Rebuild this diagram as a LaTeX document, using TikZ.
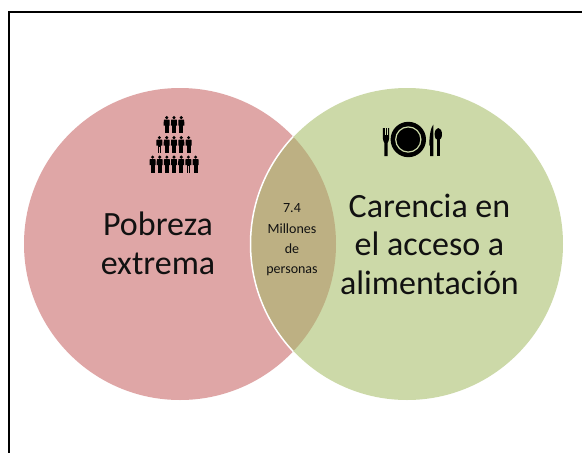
\documentclass[tikz,border=0pt]{standalone}
\usepackage{fontspec}
\setmainfont{Carlito}
\definecolor{pinkc}{HTML}{DFA6A6}
\definecolor{greenc}{HTML}{CCD9A8}
\definecolor{lensc}{HTML}{BDB083}
\definecolor{inkc}{HTML}{111111}
\tikzset{
  bigtext/.style={align=center,font=\fontsize{34}{38.5}\selectfont,text=inkc},
  smalltext/.style={align=center,font=\fontsize{14}{20.3}\selectfont,text=inkc},
  person/.pic={
    \fill[black] (0,1.6) circle (1.7);
    \fill[black] (-1.9,3.6) rectangle (1.9,10.5);
    \fill[black] (-2.9,4) -- (-2.2,3.5) -- (2.2,3.5) -- (2.9,4) -- (3.05,9.6) -- (-3.05,9.6) -- cycle;
    \fill[black] (-1.9,10) rectangle (-0.1,17);
    \fill[black] (0.1,10) rectangle (1.9,17);
  }
}
\begin{document}
\begin{tikzpicture}[x=1pt,y=-1pt]
\useasboundingbox (0,0) rectangle (582,453);
\fill[white] (0,0) rectangle (582,453);
\draw[black,line width=2.3pt] (9.3,453.5) -- (9.3,11.7) -- (582,11.7);
\fill[pinkc] (180,244) circle (156);
\fill[greenc] (407,244) circle (156);
\begin{scope}
  \clip (180,244) circle (156);
  \fill[lensc] (407,244) circle (156);
  \draw[white,line width=1.5pt] (407,244) circle (156.5);
\end{scope}
\node[bigtext] (pobreza) at (158,243.5) {Pobreza\\extrema};
\node[bigtext] (carencia) at (429.5,244) {Carencia en\\el acceso a\\alimentación};
\node[smalltext] (millones) at (292,240) {7.4\\Millones\\de\\personas};
% people icon
\foreach \px/\py in {166.7/116,174/116,181.3/116,
  159.4/136,166.7/136,174/136,181.3/136,188.6/136,
  152.6/155.5,159.7/155.5,166.9/155.5,174/155.5,181.2/155.5,188.4/155.5,195.6/155.5}
  \pic at (\px,\py) {person};
% plate
\fill[black] (408.3,139.5) circle (17.7);
\draw[greenc,line width=1.2pt] (408.3,139.5) circle (12.6);
% fork
\fill[black] (382.8,128) -- (389.2,128) -- (389.2,138) .. controls (389.2,141) and (387.8,142) .. (387.6,143) -- (387.6,156) -- (384.4,156) -- (384.4,143) .. controls (384.2,142) and (382.8,141) .. (382.8,138) -- cycle;
\fill[greenc] (384.5,128) rectangle (385.3,135);
\fill[greenc] (386.7,128) rectangle (387.5,135);
% knife
\fill[black] (430.2,156) -- (433.3,156) -- (433.3,124.7) .. controls (431,127) and (429.3,135) .. (429.3,145) -- (430.2,146) -- cycle;
% spoon
\fill[black] (438.3,134.2) ellipse (3.7 and 6.2);
\fill[black] (436.8,138) -- (439.8,138) -- (439.8,156) -- (436.8,156) -- cycle;
\end{tikzpicture}
\end{document}
